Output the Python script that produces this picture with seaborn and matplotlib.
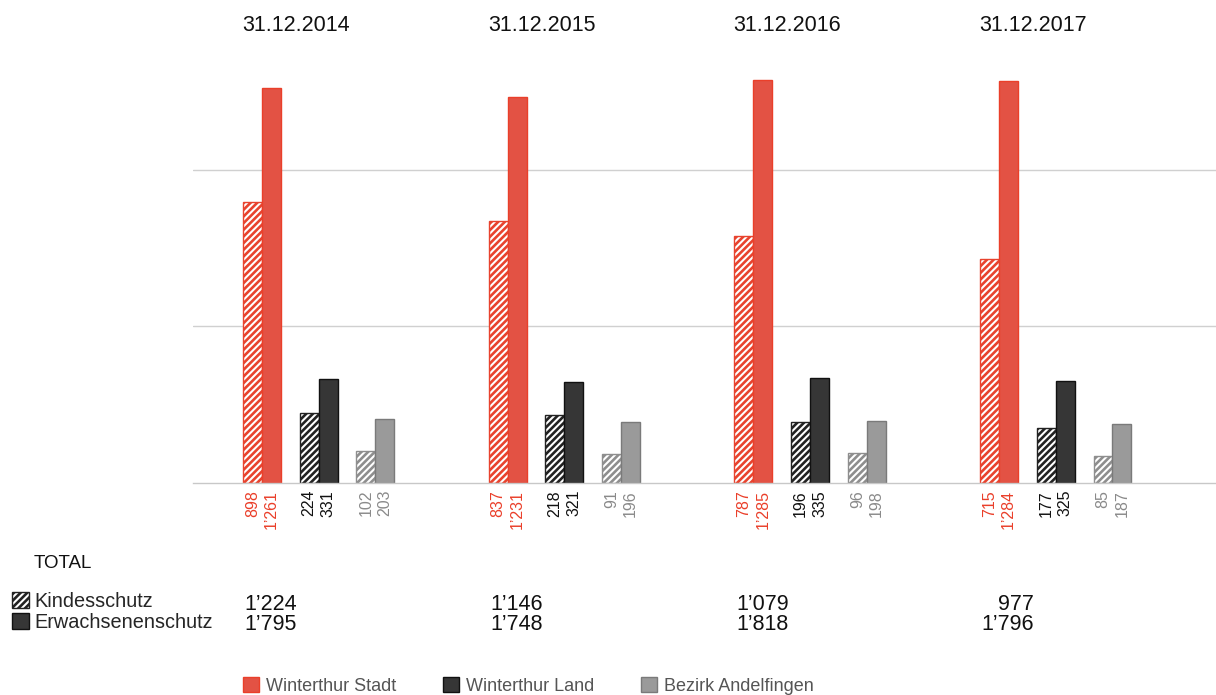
import matplotlib
matplotlib.use("Agg")
import matplotlib.pyplot as plt
from matplotlib.patches import Patch
import pandas as pd
import seaborn as sns

years = ["31.12.2014", "31.12.2015", "31.12.2016", "31.12.2017"]
regions = ["Winterthur Stadt", "Winterthur Land", "Bezirk Andelfingen"]
kinds = ["Kindesschutz", "Erwachsenenschutz"]

stadt_kind = [898, 837, 787, 715]
stadt_erw = [1261, 1231, 1285, 1284]
land_kind = [224, 218, 196, 177]
land_erw = [331, 321, 335, 325]
andel_kind = [102, 91, 96, 85]
andel_erw = [203, 196, 198, 187]

total_kind = [1224, 1146, 1079, 977]
total_erw = [1795, 1748, 1818, 1796]

values = {
    ("Winterthur Stadt", "Kindesschutz"): stadt_kind,
    ("Winterthur Stadt", "Erwachsenenschutz"): stadt_erw,
    ("Winterthur Land", "Kindesschutz"): land_kind,
    ("Winterthur Land", "Erwachsenenschutz"): land_erw,
    ("Bezirk Andelfingen", "Kindesschutz"): andel_kind,
    ("Bezirk Andelfingen", "Erwachsenenschutz"): andel_erw,
}

fill = {"Winterthur Stadt": "#E35244", "Winterthur Land": "#363636", "Bezirk Andelfingen": "#9A9A9A"}
edge = {"Winterthur Stadt": "#EA3F2A", "Winterthur Land": "#111111", "Bezirk Andelfingen": "#7A7A7A"}
hatch_col = {"Winterthur Stadt": "#E8432E", "Winterthur Land": "#222222", "Bezirk Andelfingen": "#8E8E8E"}
label_col = {"Winterthur Stadt": "#EA3F2A", "Winterthur Land": "#111111", "Bezirk Andelfingen": "#8A8A8A"}

FONT = ["Liberation Sans", "DejaVu Sans"]


def fmt(v):
    return f"{v:,}".replace(",", "\u2019")


sns.set_theme(style="white")
plt.rcParams["font.family"] = FONT
plt.rcParams["hatch.linewidth"] = 1.9

fig = plt.figure(figsize=(12.16, 6.95), dpi=100)
ax = fig.add_axes([193 / 1216, (695 - 483) / 695, 1023 / 1216, 470 / 695])

# slot layout: per year 13 slots -> pair, gap, pair, gap, pair, 5 gaps
for r, region in enumerate(regions):
    for k, kind in enumerate(kinds):
        vals = values[(region, kind)]
        pos = [g * 13 + r * 3 + k for g in range(len(years))]
        df = pd.DataFrame({"pos": pos, "value": vals})
        n_before = len(ax.patches)
        if kind == "Kindesschutz":
            sns.barplot(data=df, x="pos", y="value", native_scale=True, width=1 / 13,
                        color="white", saturation=1, edgecolor=hatch_col[region],
                        hatch="/////", linewidth=1.0, ax=ax, errorbar=None)
            for p in ax.patches[n_before:]:
                p.set_facecolor("white")
                p.set_edgecolor(hatch_col[region])
        else:
            sns.barplot(data=df, x="pos", y="value", native_scale=True, width=1 / 13,
                        color=fill[region], saturation=1, edgecolor=edge[region],
                        linewidth=1.0, ax=ax, errorbar=None)
        for x, v in zip(pos, vals):
            ax.text(x, -22, fmt(v), rotation=90, ha="center", va="top",
                    fontsize=11.5, color=label_col[region])

ax.set_xlim(-3.15, 50.98)
ax.set_ylim(0, 1500)
ax.set_yticks([500, 1000])
ax.set_xticks([])
ax.set_yticklabels([])
ax.tick_params(left=False, bottom=False)
ax.set_xlabel("")
ax.set_ylabel("")
ax.grid(axis="y", color="#D0D0D0", linewidth=1)
ax.set_axisbelow(True)
for s in ["top", "right", "left"]:
    ax.spines[s].set_visible(False)
ax.spines["bottom"].set_color("#C8C8C8")
ax.spines["bottom"].set_linewidth(1)

# year titles and totals
for g, year in enumerate(years):
    xc = g * 13 + 2.3
    ax.text(xc, 1460, year, ha="center", va="center", fontsize=15.5, color="#111111",
            clip_on=False)
    xf = ax.transData.transform((xc, 0))[0] / 1216 + 0.001
    fig.text(xf, 1 - 604 / 695, fmt(total_kind[g]), ha="right", va="center",
             fontsize=15.5, color="#111111")
    fig.text(xf, 1 - 625 / 695, fmt(total_erw[g]), ha="right", va="center",
             fontsize=15.5, color="#111111")

fig.text(34 / 1216, 1 - 563 / 695, "TOTAL", ha="left", va="center", fontsize=13.5, color="#111111")

kind_handles = [
    Patch(facecolor="white", edgecolor="#222222", hatch="/////", linewidth=1, label="Kindesschutz"),
    Patch(facecolor="#363636", edgecolor="#111111", linewidth=1, label="Erwachsenenschutz"),
]
fig.legend(handles=kind_handles, loc="upper left", bbox_to_anchor=(12 / 1216, 1 - 592 / 695),
           frameon=False, fontsize=14.3, handlelength=0.85, handleheight=0.85,
           handletextpad=0.3, labelspacing=0.1, borderaxespad=0, borderpad=0)

reg_handles = [Patch(facecolor=fill[r], edgecolor=edge[r], linewidth=1, label=r) for r in regions]
leg = fig.legend(handles=reg_handles, loc="center left", bbox_to_anchor=(243 / 1216, 1 - 686 / 695),
                 ncol=3, frameon=False, fontsize=13, handlelength=0.9, handleheight=0.9,
                 handletextpad=0.4, columnspacing=2.55, borderaxespad=0, borderpad=0)
for t in leg.get_texts():
    t.set_color("#555555")

fig.savefig("out.png", dpi=100)
